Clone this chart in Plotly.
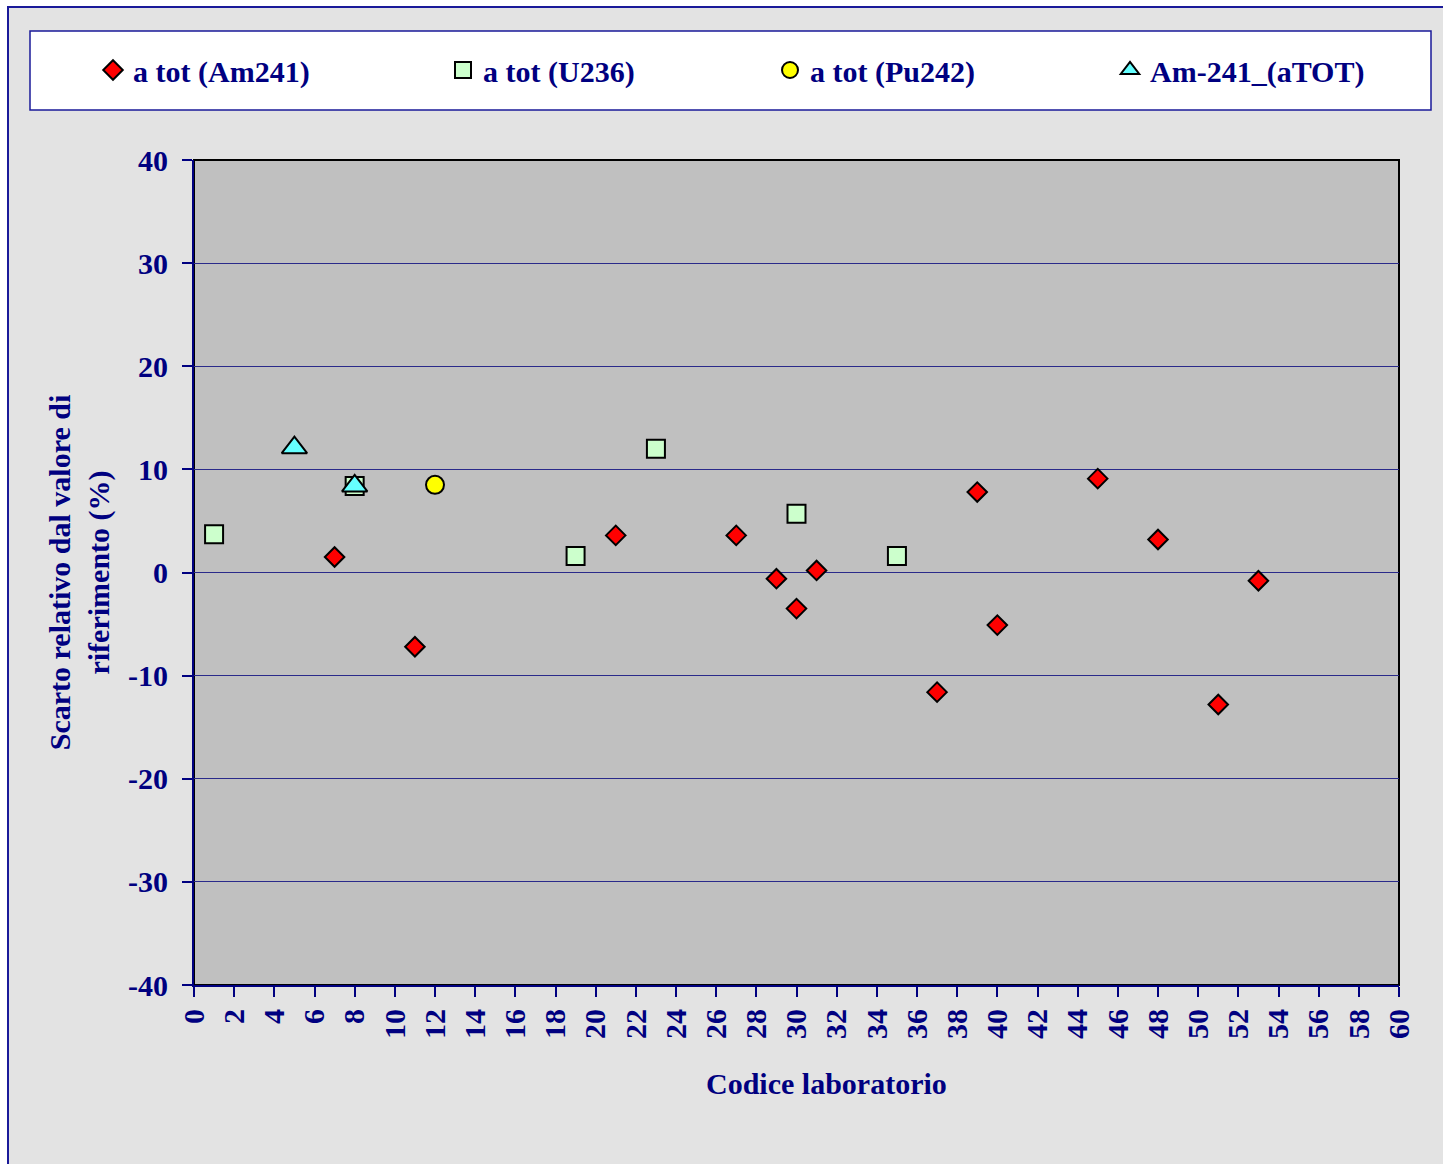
import plotly.graph_objects as go

# Laboratory codes and relative deviations (%) per tracer series
lab_am241 = [7, 11, 21, 27, 29, 30, 31, 37, 39, 40, 45, 48, 51, 53]
dev_am241 = [1.5, -7.2, 3.6, 3.6, -0.6, -3.5, 0.2, -11.6, 7.8, -5.1, 9.1, 3.2, -12.8, -0.8]

lab_u236 = [1, 8, 19, 23, 30, 35]
dev_u236 = [3.7, 8.4, 1.6, 12.0, 5.7, 1.6]

lab_pu242 = [12]
dev_pu242 = [8.5]

lab_atot = [5, 8]
dev_atot = [12.1, 8.4]

series_names = ["a tot (Am241)", "a tot (U236)", "a tot (Pu242)", "Am-241_(aTOT)"]
x_ticks = list(range(0, 61, 2))
y_ticks = list(range(-40, 41, 10))

NAVY = "#000080"
FONT = "Liberation Serif, Times New Roman, serif"

W, H = 1443, 1164
L, R, T, B = 194, 44, 160, 179
PW, PH = W - L - R, H - T - B


def px_x(p):
    return (p - L) / PW


def px_y(p):
    return (H - B - p) / PH


fig = go.Figure()

styles = [
    dict(symbol="diamond", size=15, color="#ff0000"),
    dict(symbol="square", size=18, color="#ccffcc"),
    dict(symbol="circle", size=18, color="#ffff00"),
    dict(symbol="triangle-up", size=22, color="#66ffff"),
]
data = [(lab_am241, dev_am241), (lab_u236, dev_u236),
        (lab_pu242, dev_pu242), (lab_atot, dev_atot)]
legend_ids = ["legend", "legend2", "legend3", "legend4"]

for (xs, ys), name, st, lg in zip(data, series_names, styles, legend_ids):
    fig.add_trace(go.Scatter(
        x=xs, y=ys, mode="markers", name=name, legend=lg, showlegend=True,
        marker=dict(symbol=st["symbol"], size=st["size"], color=st["color"],
                    line=dict(color="black", width=2)),
    ))

# Legend entries placed individually across the legend box
legend_marker_px = [113, 463, 790, 1130]
legend_y = px_y(70)
for lg, mx in zip(legend_ids, legend_marker_px):
    fig.layout[lg] = dict(
        x=px_x(mx - 20), xanchor="left", y=legend_y, yanchor="middle",
        orientation="h", bgcolor="rgba(0,0,0,0)", borderwidth=0,
        font=dict(family=FONT, size=30, color=NAVY, weight="bold"),
        itemsizing="trace", visible=True,
    )

shapes = [
    # chart area frame
    dict(type="rect", xref="paper", yref="paper", layer="below",
         x0=px_x(8), x1=px_x(W + 20), y0=px_y(H + 20), y1=px_y(7),
         fillcolor="#e3e3e3", line=dict(color="#1a1a99", width=2)),
    # legend box
    dict(type="rect", xref="paper", yref="paper", layer="below",
         x0=px_x(30), x1=px_x(1431), y0=px_y(110), y1=px_y(31),
         fillcolor="white", line=dict(color="#1a1a99", width=1.5)),
    # plot area
    dict(type="rect", xref="x domain", yref="y domain", layer="below",
         x0=0, x1=1, y0=0, y1=1,
         fillcolor="#c0c0c0", line=dict(color="black", width=2)),
]

# x-axis title, set slightly right of the plot centre
annotations = [
    dict(text="<b>Codice laboratorio</b>", xref="paper", yref="paper",
         x=px_x(826), y=px_y(1083), xanchor="center", yanchor="middle",
         showarrow=False, font=dict(family=FONT, size=30, color=NAVY)),
]

fig.update_layout(
    width=W, height=H,
    showlegend=True,
    margin=dict(l=L, r=R, t=T, b=B, pad=0),
    paper_bgcolor="white",
    plot_bgcolor="rgba(0,0,0,0)",
    shapes=shapes,
    annotations=annotations,
    font=dict(family=FONT, size=30, color=NAVY),
    xaxis=dict(
        range=[0, 60], tickvals=x_ticks, ticktext=[str(v) for v in x_ticks],
        tickangle=-90, ticks="outside", ticklen=10, tickwidth=1.5, tickcolor=NAVY,
        showline=True, linecolor=NAVY, linewidth=2,
        showgrid=False, zeroline=False,
        tickfont=dict(family=FONT, size=30, color=NAVY, weight="bold"),
    ),
    yaxis=dict(
        range=[-40, 40], tickvals=y_ticks, ticktext=[str(v) for v in y_ticks],
        ticks="outside", ticklen=10, tickwidth=1.5, tickcolor=NAVY,
        ticklabelstandoff=8,
        showline=True, linecolor=NAVY, linewidth=2,
        showgrid=True, gridcolor="#2a2a8a", gridwidth=1,
        zeroline=True, zerolinecolor="#2a2a8a", zerolinewidth=1,
        tickfont=dict(family=FONT, size=30, color=NAVY, weight="bold"),
        title=dict(text="<b>Scarto relativo dal valore di<br>riferimento (%)</b>",
                   standoff=10,
                   font=dict(family=FONT, size=30, color=NAVY)),
    ),
)

fig.write_html("out.html")
